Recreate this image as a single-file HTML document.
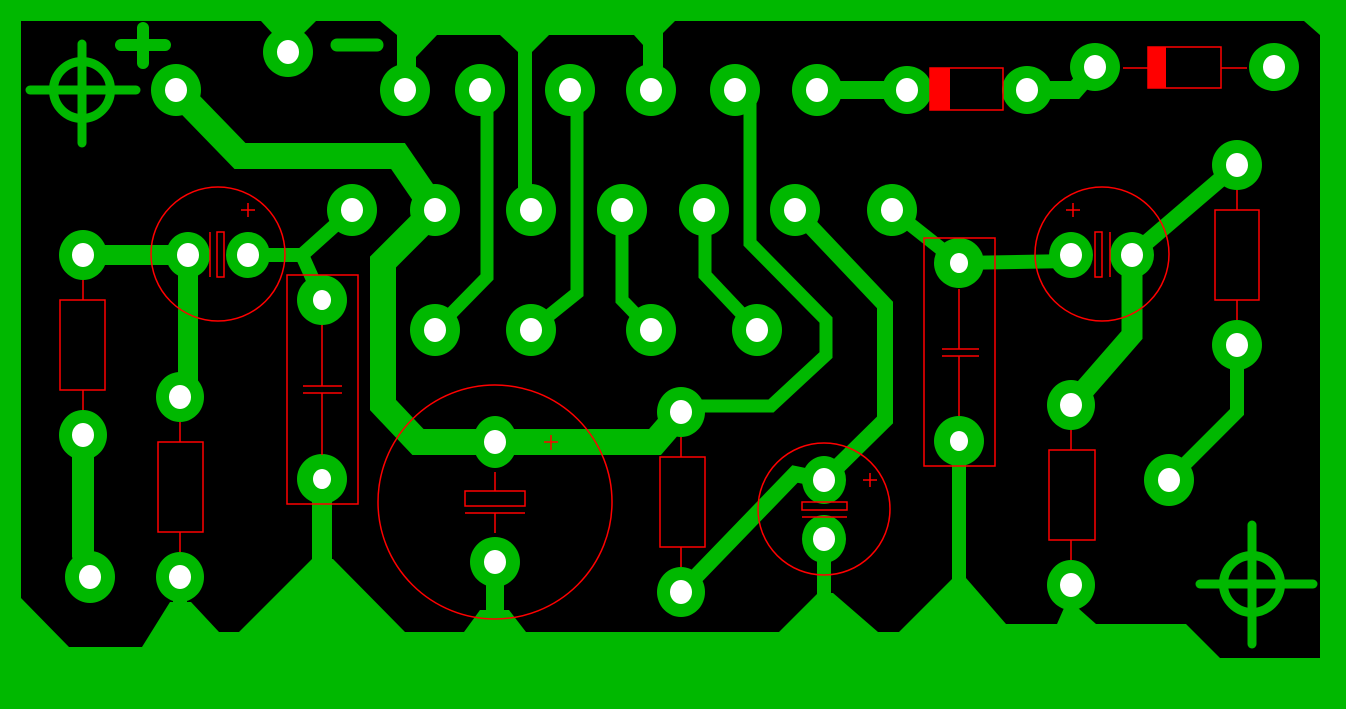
<!DOCTYPE html>
<html><head><meta charset="utf-8"><style>html,body{margin:0;padding:0;background:#00b800;}svg{display:block}</style></head>
<body>
<svg width="1346" height="709" viewBox="0 0 1346 709" xmlns="http://www.w3.org/2000/svg">
<rect width="1346" height="709" fill="#00b800"/>
<polygon fill="#000" points="21,21 1304,21 1320,35 1320,658 1220,658 1186,624 1096,624 1078,608 1064,608 1057,624 1006,624 966,578 953,578 899,632 878,632 833,593 818,593 779,632 526,632 509,610 480,610 464,632 405,632 333,559 312,559 239,632 219,632 191,602 170,602 142,647 69,647 21,598"/>
<g fill="#00b800">
<polygon points="261,21 272,33 304,33 316,21"/>
<polygon points="380,21 397,35 397,70 416,70 416,57 437,35 500,35 518,52 518,210 532,210 532,52 549,35 634,35 643,45 643,90 663,90 663,33 675,21"/>
</g>
<g fill="none" stroke="#00b800" stroke-linejoin="miter">
<polyline points="176,90 240,156 398,156 435,210" stroke-width="26"/>
<polyline points="435,210 383,262 383,405 418,442 655,442 681,412" stroke-width="26"/>
<polyline points="83,255 188,255 188,397" stroke-width="20"/>
<polyline points="248,255 302,255 352,210" stroke-width="14"/>
<polyline points="302,255 322,300" stroke-width="14"/>
<polyline points="487,90 487,277 435,330" stroke-width="13"/>
<polyline points="577,90 577,293 531,330" stroke-width="13"/>
<polyline points="622,210 622,300 651,330" stroke-width="13"/>
<polyline points="705,210 705,275 757,330" stroke-width="13"/>
<polyline points="750,90 750,243 826,320 826,355 771,406 681,406" stroke-width="13"/>
<polyline points="795,210 885,305 885,420 824,480" stroke-width="16"/>
<polyline points="681,592 795,474 824,480" stroke-width="16"/>
<polyline points="817,90 907,90" stroke-width="18"/>
<polyline points="1027,90 1075,90 1095,67" stroke-width="18"/>
<polyline points="892,210 959,263 1071,261" stroke-width="14"/>
<polyline points="1132,255 1237,165" stroke-width="16"/>
<polyline points="1132,255 1132,335 1071,405" stroke-width="21"/>
<polyline points="1237,345 1237,412 1169,480" stroke-width="14"/>
<polyline points="83,435 83,555 90,577" stroke-width="22"/>
<polyline points="322,479 322,565" stroke-width="20"/>
<polyline points="495,562 495,615" stroke-width="18"/>
<polyline points="824,539 824,598" stroke-width="14"/>
<polyline points="959,441 959,582" stroke-width="14"/>
<polyline points="1071,585 1071,612" stroke-width="12"/>
<polyline points="180,577 180,605" stroke-width="14"/>
</g>
<g fill="none" stroke="#00b800" stroke-width="9" stroke-linecap="round">
<ellipse cx="82" cy="90" rx="28.5" ry="28.5"/>
<line x1="30" y1="90" x2="136" y2="90"/><line x1="82" y1="44" x2="82" y2="143"/>
<ellipse cx="1252" cy="584" rx="28.5" ry="28.5"/>
<line x1="1200" y1="584" x2="1313" y2="584"/><line x1="1252" y1="525" x2="1252" y2="644"/>
</g>
<g stroke="#00b800" stroke-width="12" stroke-linecap="round">
<line x1="121" y1="45" x2="165" y2="45"/><line x1="143" y1="28" x2="143" y2="63"/>
<line x1="337" y1="45" x2="377" y2="45" stroke-width="13"/>
</g>
<g fill="#00b800">
<ellipse cx="288" cy="52" rx="25" ry="25"/><ellipse cx="176" cy="90" rx="25" ry="26"/><ellipse cx="405" cy="90" rx="25" ry="26"/><ellipse cx="480" cy="90" rx="25" ry="26"/><ellipse cx="570" cy="90" rx="25" ry="26"/><ellipse cx="651" cy="90" rx="25" ry="26"/><ellipse cx="735" cy="90" rx="25" ry="26"/><ellipse cx="817" cy="90" rx="25" ry="26"/><ellipse cx="907" cy="90" rx="25" ry="24"/><ellipse cx="1027" cy="90" rx="25" ry="24"/><ellipse cx="1095" cy="67" rx="25" ry="24"/><ellipse cx="1274" cy="67" rx="25" ry="24"/>
<ellipse cx="352" cy="210" rx="25" ry="26"/><ellipse cx="435" cy="210" rx="25" ry="26"/><ellipse cx="531" cy="210" rx="25" ry="26"/><ellipse cx="622" cy="210" rx="25" ry="26"/><ellipse cx="704" cy="210" rx="25" ry="26"/><ellipse cx="795" cy="210" rx="25" ry="26"/><ellipse cx="892" cy="210" rx="25" ry="26"/><ellipse cx="1237" cy="165" rx="25" ry="25"/>
<ellipse cx="83" cy="255" rx="24" ry="25"/><ellipse cx="188" cy="255" rx="22" ry="23"/><ellipse cx="248" cy="255" rx="22" ry="23"/><ellipse cx="322" cy="300" rx="25" ry="25"/><ellipse cx="959" cy="263" rx="25" ry="25"/><ellipse cx="1071" cy="255" rx="22" ry="23"/><ellipse cx="1132" cy="255" rx="22" ry="23"/><ellipse cx="1237" cy="345" rx="25" ry="25"/>
<ellipse cx="435" cy="330" rx="25" ry="26"/><ellipse cx="531" cy="330" rx="25" ry="26"/><ellipse cx="651" cy="330" rx="25" ry="26"/><ellipse cx="757" cy="330" rx="25" ry="26"/><ellipse cx="180" cy="397" rx="24" ry="25"/><ellipse cx="83" cy="435" rx="24" ry="25"/><ellipse cx="681" cy="412" rx="24" ry="25"/><ellipse cx="1071" cy="405" rx="24" ry="25"/><ellipse cx="495" cy="442" rx="22" ry="26"/><ellipse cx="322" cy="479" rx="25" ry="25"/><ellipse cx="959" cy="441" rx="25" ry="25"/><ellipse cx="1169" cy="480" rx="25" ry="26"/><ellipse cx="824" cy="480" rx="22" ry="24"/><ellipse cx="824" cy="539" rx="22" ry="24"/><ellipse cx="495" cy="562" rx="25" ry="25"/><ellipse cx="90" cy="577" rx="25" ry="26"/><ellipse cx="180" cy="577" rx="24" ry="25"/><ellipse cx="681" cy="592" rx="24" ry="25"/><ellipse cx="1071" cy="585" rx="24" ry="25"/>
</g>
<g fill="#fff">
<ellipse cx="288" cy="52" rx="11" ry="12"/><ellipse cx="176" cy="90" rx="11" ry="12"/><ellipse cx="405" cy="90" rx="11" ry="12"/><ellipse cx="480" cy="90" rx="11" ry="12"/><ellipse cx="570" cy="90" rx="11" ry="12"/><ellipse cx="651" cy="90" rx="11" ry="12"/><ellipse cx="735" cy="90" rx="11" ry="12"/><ellipse cx="817" cy="90" rx="11" ry="12"/><ellipse cx="907" cy="90" rx="11" ry="12"/><ellipse cx="1027" cy="90" rx="11" ry="12"/><ellipse cx="1095" cy="67" rx="11" ry="12"/><ellipse cx="1274" cy="67" rx="11" ry="12"/>
<ellipse cx="352" cy="210" rx="11" ry="12"/><ellipse cx="435" cy="210" rx="11" ry="12"/><ellipse cx="531" cy="210" rx="11" ry="12"/><ellipse cx="622" cy="210" rx="11" ry="12"/><ellipse cx="704" cy="210" rx="11" ry="12"/><ellipse cx="795" cy="210" rx="11" ry="12"/><ellipse cx="892" cy="210" rx="11" ry="12"/><ellipse cx="1237" cy="165" rx="11" ry="12"/>
<ellipse cx="83" cy="255" rx="11" ry="12"/><ellipse cx="188" cy="255" rx="11" ry="12"/><ellipse cx="248" cy="255" rx="11" ry="12"/><ellipse cx="322" cy="300" rx="9" ry="10"/><ellipse cx="959" cy="263" rx="9" ry="10"/><ellipse cx="1071" cy="255" rx="11" ry="12"/><ellipse cx="1132" cy="255" rx="11" ry="12"/><ellipse cx="1237" cy="345" rx="11" ry="12"/>
<ellipse cx="435" cy="330" rx="11" ry="12"/><ellipse cx="531" cy="330" rx="11" ry="12"/><ellipse cx="651" cy="330" rx="11" ry="12"/><ellipse cx="757" cy="330" rx="11" ry="12"/><ellipse cx="180" cy="397" rx="11" ry="12"/><ellipse cx="83" cy="435" rx="11" ry="12"/><ellipse cx="681" cy="412" rx="11" ry="12"/><ellipse cx="1071" cy="405" rx="11" ry="12"/><ellipse cx="495" cy="442" rx="11" ry="12"/><ellipse cx="322" cy="479" rx="9" ry="10"/><ellipse cx="959" cy="441" rx="9" ry="10"/><ellipse cx="1169" cy="480" rx="11" ry="12"/><ellipse cx="824" cy="480" rx="11" ry="12"/><ellipse cx="824" cy="539" rx="11" ry="12"/><ellipse cx="495" cy="562" rx="11" ry="12"/><ellipse cx="90" cy="577" rx="11" ry="12"/><ellipse cx="180" cy="577" rx="11" ry="12"/><ellipse cx="681" cy="592" rx="11" ry="12"/><ellipse cx="1071" cy="585" rx="11" ry="12"/>
</g>
<g fill="none" stroke="#ff0000" stroke-width="1.5">
<rect x="60" y="300" width="45" height="90"/><line x1="83" y1="280" x2="83" y2="300"/><line x1="83" y1="390" x2="83" y2="410"/>
<rect x="158" y="442" width="45" height="90"/><line x1="180" y1="422" x2="180" y2="442"/><line x1="180" y1="532" x2="180" y2="552"/>
<rect x="287" y="275" width="71" height="229"/><line x1="303" y1="386" x2="342" y2="386"/><line x1="303" y1="393" x2="342" y2="393"/><line x1="322" y1="325" x2="322" y2="386"/><line x1="322" y1="393" x2="322" y2="455"/>
<circle cx="218" cy="254" r="67"/><line x1="241" y1="210" x2="255" y2="210"/><line x1="248" y1="203" x2="248" y2="217"/><line x1="210" y1="232" x2="210" y2="277"/><rect x="217" y="232" width="7" height="45"/>
<circle cx="495" cy="502" r="117"/><line x1="544" y1="442" x2="558" y2="442"/><line x1="551" y1="435" x2="551" y2="450"/><rect x="465" y="491" width="60" height="15"/><line x1="465" y1="513" x2="525" y2="513"/><line x1="495" y1="472" x2="495" y2="491"/><line x1="495" y1="513" x2="495" y2="533"/>
<rect x="660" y="457" width="45" height="90"/><line x1="681" y1="437" x2="681" y2="457"/><line x1="681" y1="547" x2="681" y2="567"/>
<circle cx="824" cy="509" r="66"/><line x1="863" y1="480" x2="877" y2="480"/><line x1="870" y1="473" x2="870" y2="487"/><rect x="802" y="502" width="45" height="8"/><line x1="802" y1="517" x2="847" y2="517"/>
<rect x="924" y="238" width="71" height="228"/><line x1="942" y1="349" x2="979" y2="349"/><line x1="942" y1="356" x2="979" y2="356"/><line x1="959" y1="289" x2="959" y2="349"/><line x1="959" y1="356" x2="959" y2="416"/>
<rect x="930" y="68" width="73" height="42"/>
<rect x="1148" y="47" width="73" height="41"/><line x1="1123" y1="68" x2="1148" y2="68"/><line x1="1221" y1="68" x2="1247" y2="68"/>
<circle cx="1102" cy="254" r="67"/><line x1="1066" y1="210" x2="1080" y2="210"/><line x1="1073" y1="203" x2="1073" y2="217"/><rect x="1095" y="232" width="7" height="45"/><line x1="1110" y1="232" x2="1110" y2="277"/>
<rect x="1215" y="210" width="44" height="90"/><line x1="1237" y1="190" x2="1237" y2="210"/><line x1="1237" y1="300" x2="1237" y2="320"/>
<rect x="1049" y="450" width="46" height="90"/><line x1="1071" y1="430" x2="1071" y2="450"/><line x1="1071" y1="540" x2="1071" y2="560"/>
</g>
<g fill="#ff0000"><rect x="930" y="68" width="20" height="42"/><rect x="1148" y="47" width="18" height="41"/></g>
</svg>
</body></html>
